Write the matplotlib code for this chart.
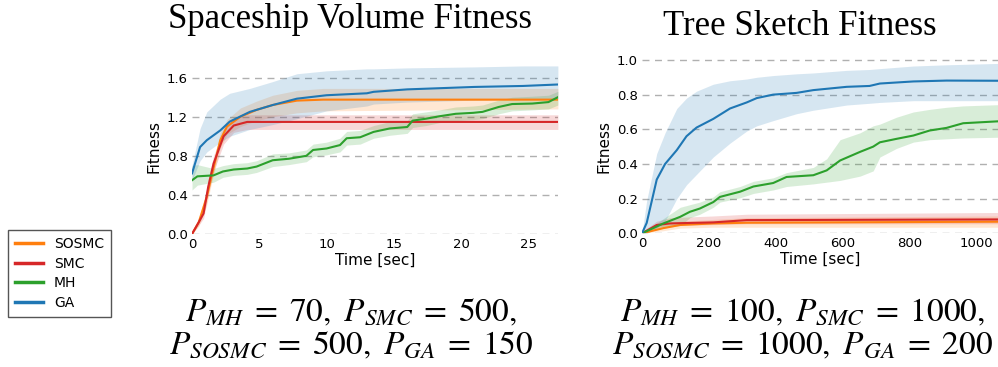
import matplotlib
matplotlib.use("Agg")
import matplotlib.pyplot as plt

# ===================== data =====================
series_names = ["SOSMC", "SMC", "MH", "GA"]
colors = {"SOSMC": "#ff7f0e", "SMC": "#d62728", "MH": "#2ca02c", "GA": "#1f77b4"}

# --- Spaceship Volume Fitness ---
ship_ga_t    = [0, 0.6, 1.1, 2.1, 2.8, 4.3, 6, 7.8, 10, 13, 13.5, 16, 21, 24.6, 27.2]
ship_ga_mean = [0.62, 0.89, 0.96, 1.06, 1.15, 1.25, 1.32, 1.385, 1.42, 1.44, 1.455, 1.48, 1.505, 1.515, 1.53]
ship_ga_lo   = [0.55, 0.75, 0.84, 0.94, 1.0, 1.07, 1.12, 1.18, 1.26, 1.31, 1.33, 1.35, 1.37, 1.38, 1.385]
ship_ga_hi   = [0.70, 1.08, 1.25, 1.38, 1.44, 1.49, 1.56, 1.64, 1.67, 1.69, 1.69, 1.70, 1.71, 1.72, 1.72]

ship_sosmc_t    = [0, 0.5, 1.1, 1.5, 2.1, 2.6, 3.6, 4.8, 6, 7.8, 9.75, 27.2]
ship_sosmc_mean = [0, 0.12, 0.38, 0.62, 0.96, 1.10, 1.2, 1.27, 1.32, 1.365, 1.375, 1.375]
ship_sosmc_lo   = [0, 0.08, 0.30, 0.55, 0.88, 1.02, 1.10, 1.16, 1.20, 1.24, 1.26, 1.28]
ship_sosmc_hi   = [0.02, 0.16, 0.46, 0.70, 1.04, 1.17, 1.29, 1.36, 1.42, 1.47, 1.49, 1.49]

ship_smc_t    = [0, 0.5, 0.86, 1.2, 1.6, 2.35, 3.1, 4.1, 27.2]
ship_smc_mean = [0, 0.12, 0.21, 0.48, 0.72, 1.0, 1.11, 1.147, 1.147]
ship_smc_lo   = [0, 0.09, 0.16, 0.40, 0.64, 0.92, 1.04, 1.07, 1.07]
ship_smc_hi   = [0.02, 0.15, 0.27, 0.56, 0.80, 1.08, 1.18, 1.22, 1.22]

ship_mh_t    = [0, 0.4, 1.6, 2.3, 3.1, 4.1, 4.8, 6, 7.2, 8.5, 9, 10, 11, 11.5, 12.5, 13.5, 14.7, 16,
                16.4, 17.4, 18.4, 19.6, 20.9, 21.6, 22.8, 23.8, 25.3, 26.5, 27.2]
ship_mh_mean = [0.55, 0.59, 0.60, 0.64, 0.66, 0.67, 0.69, 0.755, 0.77, 0.80, 0.86, 0.875, 0.91, 0.98,
                0.99, 1.045, 1.08, 1.095, 1.16, 1.18, 1.205, 1.23, 1.24, 1.25, 1.30, 1.33, 1.335, 1.35, 1.40]
ship_mh_lo   = [0.45, 0.50, 0.53, 0.58, 0.60, 0.61, 0.63, 0.69, 0.71, 0.74, 0.79, 0.81, 0.84, 0.91,
                0.92, 0.98, 1.01, 1.03, 1.09, 1.11, 1.14, 1.16, 1.17, 1.18, 1.23, 1.26, 1.27, 1.28, 1.32]
ship_mh_hi   = [0.70, 0.71, 0.67, 0.70, 0.72, 0.73, 0.75, 0.82, 0.83, 0.86, 0.92, 0.94, 0.98, 1.05,
                1.06, 1.11, 1.15, 1.16, 1.23, 1.25, 1.27, 1.30, 1.31, 1.32, 1.37, 1.40, 1.41, 1.42, 1.46]

# --- Tree Sketch Fitness ---
tree_ga_t    = [0, 14, 44, 69, 104, 133, 163, 213, 263, 313, 343, 392, 462, 512, 612, 680, 711, 811, 910, 1064]
tree_ga_mean = [0, 0.06, 0.31, 0.40, 0.48, 0.56, 0.61, 0.66, 0.72, 0.755, 0.78, 0.80, 0.81, 0.826,
                0.845, 0.85, 0.864, 0.876, 0.881, 0.88]
tree_ga_lo   = [0, 0.0, 0.03, 0.07, 0.20, 0.28, 0.34, 0.44, 0.52, 0.59, 0.62, 0.65, 0.69, 0.71,
                0.74, 0.75, 0.755, 0.765, 0.765, 0.765]
tree_ga_hi   = [0, 0.19, 0.46, 0.58, 0.72, 0.78, 0.82, 0.86, 0.88, 0.89, 0.90, 0.91, 0.92, 0.925,
                0.94, 0.945, 0.95, 0.965, 0.972, 0.98]

tree_mh_t    = [0, 64, 114, 143, 173, 213, 233, 293, 333, 392, 432, 512, 552, 592, 652, 691, 711,
                761, 811, 860, 910, 960, 1064]
tree_mh_mean = [0, 0.057, 0.095, 0.124, 0.143, 0.18, 0.21, 0.24, 0.27, 0.29, 0.325, 0.335, 0.363,
                0.42, 0.47, 0.50, 0.525, 0.545, 0.564, 0.593, 0.608, 0.635, 0.646]
tree_mh_lo   = [0, 0.03, 0.045, 0.09, 0.11, 0.15, 0.18, 0.205, 0.23, 0.25, 0.27, 0.285, 0.295,
                0.305, 0.33, 0.36, 0.44, 0.49, 0.526, 0.54, 0.545, 0.55, 0.554]
tree_mh_hi   = [0, 0.085, 0.15, 0.165, 0.18, 0.21, 0.24, 0.27, 0.30, 0.32, 0.35, 0.38, 0.43,
                0.54, 0.58, 0.62, 0.63, 0.67, 0.70, 0.715, 0.727, 0.735, 0.742]

tree_smc_t    = [0, 44, 84, 213, 313, 1064]
tree_smc_mean = [0, 0.048, 0.057, 0.063, 0.076, 0.08]
tree_smc_lo   = [0, 0.035, 0.045, 0.05, 0.055, 0.055]
tree_smc_hi   = [0.01, 0.07, 0.09, 0.10, 0.11, 0.12]

tree_sosmc_t    = [0, 64, 114, 213, 313, 1064]
tree_sosmc_mean = [0, 0.03, 0.048, 0.057, 0.061, 0.067]
tree_sosmc_lo   = [0, 0.015, 0.03, 0.035, 0.035, 0.035]
tree_sosmc_hi   = [0.01, 0.05, 0.07, 0.08, 0.09, 0.10]

ship_xticks = [0, 5, 10, 15, 20, 25]
ship_yticks = [0.0, 0.4, 0.8, 1.2, 1.6]
tree_xticks = [0, 200, 400, 600, 800, 1000]
tree_yticks = [0.0, 0.2, 0.4, 0.6, 0.8, 1.0]

ship_title = "Spaceship Volume Fitness"
tree_title = "Tree Sketch Fitness"
ship_params = [r"$P_{MH}\;=\;70,\ P_{SMC}\;=\;500,$", r"$P_{SOSMC}\;=\;500,\ P_{GA}\;=\;150$"]
tree_params = [r"$P_{MH}\;=\;100,\ P_{SMC}\;=\;1000,$", r"$P_{SOSMC}\;=\;1000,\ P_{GA}\;=\;200$"]

ship = {
    "SOSMC": (ship_sosmc_t, ship_sosmc_mean, ship_sosmc_lo, ship_sosmc_hi),
    "SMC": (ship_smc_t, ship_smc_mean, ship_smc_lo, ship_smc_hi),
    "MH": (ship_mh_t, ship_mh_mean, ship_mh_lo, ship_mh_hi),
    "GA": (ship_ga_t, ship_ga_mean, ship_ga_lo, ship_ga_hi),
}
tree = {
    "SOSMC": (tree_sosmc_t, tree_sosmc_mean, tree_sosmc_lo, tree_sosmc_hi),
    "SMC": (tree_smc_t, tree_smc_mean, tree_smc_lo, tree_smc_hi),
    "MH": (tree_mh_t, tree_mh_mean, tree_mh_lo, tree_mh_hi),
    "GA": (tree_ga_t, tree_ga_mean, tree_ga_lo, tree_ga_hi),
}

# ===================== plotting =====================
plt.rcParams["mathtext.fontset"] = "stix"

fig = plt.figure(figsize=(9.98, 3.67), dpi=100)
ax1 = fig.add_axes([0.1924, 0.3624, 0.3666, 0.4766])
ax2 = fig.add_axes([0.6433, 0.3643, 0.3567, 0.4747])


def draw_panel(ax, data, xlim, ylim, xticks, yticks):
    for name in series_names:
        t, m, lo, hi = data[name]
        ax.fill_between(t, lo, hi, color=colors[name], alpha=0.18, linewidth=0)
        ax.plot(t, m, color=colors[name], lw=1.5, label=name)
    ax.set_xlim(*xlim)
    ax.set_ylim(*ylim)
    ax.set_xticks(xticks)
    ax.set_yticks(yticks)
    ax.set_yticklabels([f"{v:.1f}" for v in yticks])
    ax.yaxis.grid(True, linestyle=(0, (5, 4)), color="#b0b0b0", lw=1)
    ax.set_axisbelow(True)
    for s in ax.spines.values():
        s.set_visible(False)
    ax.tick_params(length=0, labelsize=9.5, pad=3)
    ax.set_xlabel("Time [sec]", fontsize=11, labelpad=1)
    ax.set_ylabel("Fitness", fontsize=11, labelpad=4)


draw_panel(ax1, ship, (0, 27.2), (0, 1.79), ship_xticks, ship_yticks)
draw_panel(ax2, tree, (0, 1064), (0, 1.005), tree_xticks, tree_yticks)

# titles (LaTeX-style serif)
fig.text(0.351, 1 - 28 / 367, ship_title, family="Liberation Serif", fontsize=25,
         ha="center", va="baseline")
fig.text(0.801, 1 - 35 / 367, tree_title, family="Liberation Serif", fontsize=25,
         ha="center", va="baseline")

# parameter captions
for cx, lines in [(0.352, ship_params), (0.804, tree_params)]:
    fig.text(cx, 1 - 320 / 367, lines[0], fontsize=24, ha="center", va="baseline")
    fig.text(cx, 1 - 353 / 367, lines[1], fontsize=24, ha="center", va="baseline")

handles, labels = ax1.get_legend_handles_labels()
leg = fig.legend(handles, labels, loc="upper left", bbox_to_anchor=(0.008, 1 - 230 / 367),
                 borderaxespad=0, fontsize=10, fancybox=False, framealpha=1,
                 edgecolor="#555555", handlelength=2.0, borderpad=0.5, labelspacing=0.4)
for line in leg.get_lines():
    line.set_linewidth(2.5)

fig.savefig("out.png", dpi=100)
